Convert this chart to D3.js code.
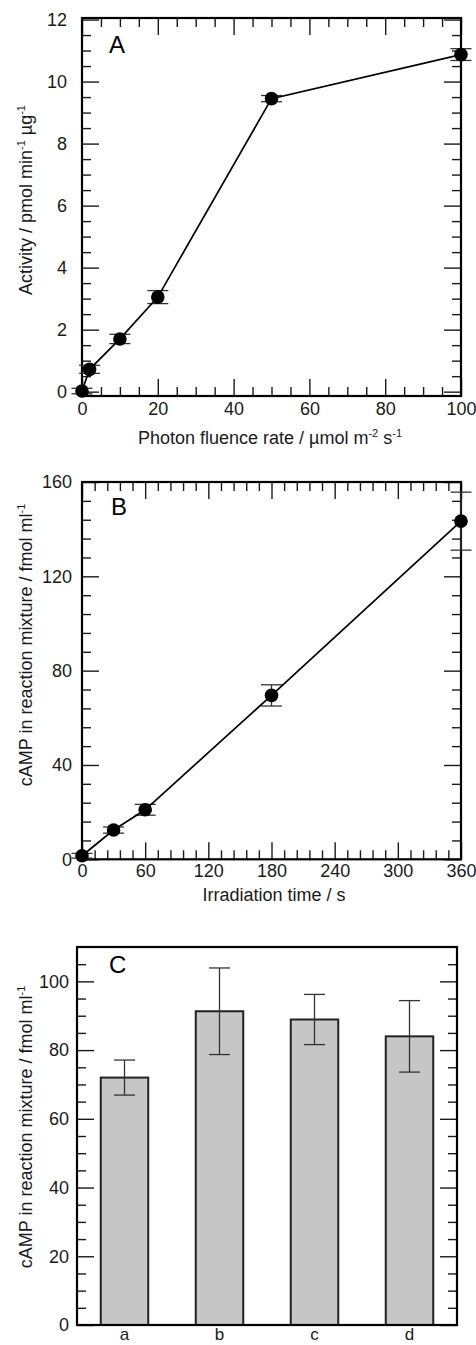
<!DOCTYPE html>
<html>
<head>
<meta charset="utf-8">
<script src="https://cdn.jsdelivr.net/npm/d3@7"></script>
<style>
  html, body { margin: 0; padding: 0; background: #fff; }
  svg { display: block; font-family: "Liberation Sans", Arial, sans-serif; }
  .tick text { fill: #1a1a1a; }
  .domain { display: none; }
</style>
</head>
<body>
<svg id="chart" width="476" height="1345"></svg>
<script>
// panel A: activity vs photon fluence rate
const fluence = [0, 2, 10, 20, 50, 100];
const activity = [0.02, 0.72, 1.7, 3.05, 9.45, 10.87];
const activityErr = [0.09, 0.13, 0.15, 0.21, 0.1, 0.19];

// panel B: cAMP vs irradiation time
const irradTime = [0, 30, 60, 180, 360];
const campTime = [1.5, 12.4, 21, 69.5, 143.4];
const campTimeErr = [1, 1.3, 2.3, 4.5, 12.3];

// panel C: cAMP by condition
const conditions = ["a", "b", "c", "d"];
const campCond = [72, 91.3, 88.9, 84];
const campCondErr = [5.1, 12.6, 7.3, 10.4];

const svg = d3.select("#chart");
const INK = "#1a1a1a";
const MAJOR = 17, MINOR = 9;
const TICK_FONT = 18;

function frameTicks(g, x, y, o) {
  const w = x.range()[1] - x.range()[0];
  const h = y.range()[0] - y.range()[1];
  const minorX = o.minorX.filter((v) => !o.majorX.includes(v));
  const minorY = o.minorY.filter((v) => !o.majorY.includes(v));
  const sides = o.sides || ["bottom", "top", "left", "right"];

  if (sides.includes("bottom") && o.majorX.length) {
    g.append("g").attr("transform", `translate(0,${h})`)
      .call(d3.axisBottom(x).tickValues(o.majorX).tickSize(-MAJOR).tickPadding(o.padX))
      .call((a) => a.selectAll("text").attr("font-size", TICK_FONT));
    g.append("g").attr("transform", `translate(0,${h})`)
      .call(d3.axisBottom(x).tickValues(minorX).tickSize(-MINOR).tickFormat(""));
  }
  if (sides.includes("top")) {
    g.append("g").call(d3.axisTop(x).tickValues(o.majorX).tickSize(-MAJOR).tickFormat(""));
    g.append("g").call(d3.axisTop(x).tickValues(minorX).tickSize(-MINOR).tickFormat(""));
  }
  g.append("g")
    .call(d3.axisLeft(y).tickValues(o.majorY).tickSize(-MAJOR).tickPadding(o.padY))
    .call((a) => a.selectAll("text").attr("font-size", TICK_FONT));
  g.append("g").call(d3.axisLeft(y).tickValues(minorY).tickSize(-MINOR).tickFormat(""));
  g.append("g").attr("transform", `translate(${w},0)`)
    .call(d3.axisRight(y).tickValues(o.majorY).tickSize(-MAJOR).tickFormat(""));
  g.append("g").attr("transform", `translate(${w},0)`)
    .call(d3.axisRight(y).tickValues(minorY).tickSize(-MINOR).tickFormat(""));

  g.selectAll(".tick line").attr("stroke", INK).attr("stroke-width", 1.4);

  g.append("rect")
    .attr("width", w).attr("height", h)
    .attr("fill", "none").attr("stroke", "#000").attr("stroke-width", 2.2);
}

function yTitle(cx, cy, main, sup, tail, sup2) {
  const t = svg.append("text")
    .attr("transform", `translate(${cx},${cy}) rotate(-90)`)
    .attr("text-anchor", "middle")
    .attr("font-size", 18).attr("fill", INK);
  t.append("tspan").text(main);
  t.append("tspan").attr("font-size", 11).attr("dy", -7).text(sup);
  if (tail) {
    t.append("tspan").attr("dy", 7).text(tail);
    t.append("tspan").attr("font-size", 11).attr("dy", -7).text(sup2);
  }
}

function panelLabel(x, y, s) {
  svg.append("text").attr("x", x).attr("y", y)
    .attr("font-size", 24).attr("fill", "#000").text(s);
}

function linePanel(box, xs, ys, es, xDomain, yDomain, ticks) {
  const g = svg.append("g").attr("transform", `translate(${box.left},${box.top})`);
  const x = d3.scaleLinear().domain(xDomain).range([0, box.right - box.left]);
  const y = d3.scaleLinear().domain(yDomain).range([box.bottom - box.top, 0]);
  frameTicks(g, x, y, ticks);

  const pts = xs.map((v, i) => ({ x: v, y: ys[i], e: es[i] }));
  const eb = g.selectAll(".eb").data(pts).join("g").attr("class", "eb")
    .attr("stroke", "#333").attr("stroke-width", 1.3);
  eb.append("line")
    .attr("x1", (d) => x(d.x)).attr("x2", (d) => x(d.x))
    .attr("y1", (d) => y(d.y - d.e)).attr("y2", (d) => y(d.y + d.e));
  [-1, 1].forEach((s) => {
    eb.append("line")
      .attr("x1", (d) => x(d.x) - 10.5).attr("x2", (d) => x(d.x) + 10.5)
      .attr("y1", (d) => y(d.y + s * d.e)).attr("y2", (d) => y(d.y + s * d.e));
  });

  g.append("path").datum(pts)
    .attr("fill", "none").attr("stroke", "#000").attr("stroke-width", 1.7)
    .attr("d", d3.line().x((d) => x(d.x)).y((d) => y(d.y)));

  g.selectAll(".pt").data(pts).join("circle").attr("class", "pt")
    .attr("cx", (d) => x(d.x)).attr("cy", (d) => y(d.y)).attr("r", 6.8).attr("fill", "#000");
  return g;
}

// ---- A ----
linePanel({ left: 82, right: 461, top: 18, bottom: 396 },
  fluence, activity, activityErr, [0, 100], [-0.14, 12.05], {
    majorX: d3.range(0, 101, 20), minorX: d3.range(0, 101, 5),
    majorY: d3.range(0, 13, 2), minorY: d3.range(0, 12.01, 0.5),
    padX: 6, padY: 15,
  });
panelLabel(109, 53, "A");
const ax = svg.append("text").attr("x", 270).attr("y", 444)
  .attr("text-anchor", "middle").attr("font-size", 18).attr("fill", INK);
ax.append("tspan").text("Photon fluence rate / \u00b5mol m");
ax.append("tspan").attr("font-size", 11).attr("dy", -7).text("-2");
ax.append("tspan").attr("dy", 7).text(" s");
ax.append("tspan").attr("font-size", 11).attr("dy", -7).text("-1");
yTitle(32, 200, "Activity / pmol min", "-1", " \u00b5g", "-1");

// ---- B ----
linePanel({ left: 82, right: 461, top: 482, bottom: 859.3 },
  irradTime, campTime, campTimeErr, [0, 360], [0, 160], {
    majorX: d3.range(0, 361, 60), minorX: d3.range(0, 361, 12),
    majorY: d3.range(0, 161, 40), minorY: d3.range(0, 161, 8),
    padX: 5, padY: 10,
  });
panelLabel(111, 515, "B");
svg.append("text").attr("x", 274).attr("y", 901)
  .attr("text-anchor", "middle").attr("font-size", 18).attr("fill", INK)
  .text("Irradiation time / s");
yTitle(32, 645, "cAMP in reaction mixture / fmol ml", "-1");

// ---- C ----
const boxC = { left: 77, right: 457, top: 947, bottom: 1325 };
const gC = svg.append("g").attr("transform", `translate(${boxC.left},${boxC.top})`);
const xC = d3.scaleBand().domain(conditions).range([0, boxC.right - boxC.left]).paddingInner(0.5).paddingOuter(0.25);
const yC = d3.scaleLinear().domain([0, 110]).range([boxC.bottom - boxC.top, 0]);
const hC = boxC.bottom - boxC.top;

gC.selectAll(".bar").data(conditions).join("rect").attr("class", "bar")
  .attr("x", (d) => xC(d)).attr("width", xC.bandwidth())
  .attr("y", (d, i) => yC(campCond[i])).attr("height", (d, i) => hC - yC(campCond[i]))
  .attr("fill", "#c6c6c6").attr("stroke", "#222").attr("stroke-width", 2);

const ebC = gC.selectAll(".ebc").data(conditions).join("g").attr("class", "ebc")
  .attr("stroke", "#333").attr("stroke-width", 1.3);
const cx = (d) => xC(d) + xC.bandwidth() / 2;
ebC.append("line").attr("x1", cx).attr("x2", cx)
  .attr("y1", (d, i) => yC(campCond[i] - campCondErr[i]))
  .attr("y2", (d, i) => yC(campCond[i] + campCondErr[i]));
[-1, 1].forEach((s) => {
  ebC.append("line")
    .attr("x1", (d) => cx(d) - 10.5).attr("x2", (d) => cx(d) + 10.5)
    .attr("y1", (d, i) => yC(campCond[i] + s * campCondErr[i]))
    .attr("y2", (d, i) => yC(campCond[i] + s * campCondErr[i]));
});

gC.append("g").attr("transform", `translate(0,${hC})`)
  .call(d3.axisBottom(xC).tickSize(0).tickPadding(3))
  .call((a) => a.selectAll("text").attr("font-size", 17));
frameTicks(gC, d3.scaleLinear().range([0, boxC.right - boxC.left]), yC, {
  majorX: [], minorX: [],
  majorY: d3.range(0, 101, 20), minorY: d3.range(0, 110, 5),
  padY: 8, sides: ["left", "right"],
});
panelLabel(109, 973, "C");
yTitle(32, 1127, "cAMP in reaction mixture / fmol ml", "-1");
</script>
</body>
</html>
